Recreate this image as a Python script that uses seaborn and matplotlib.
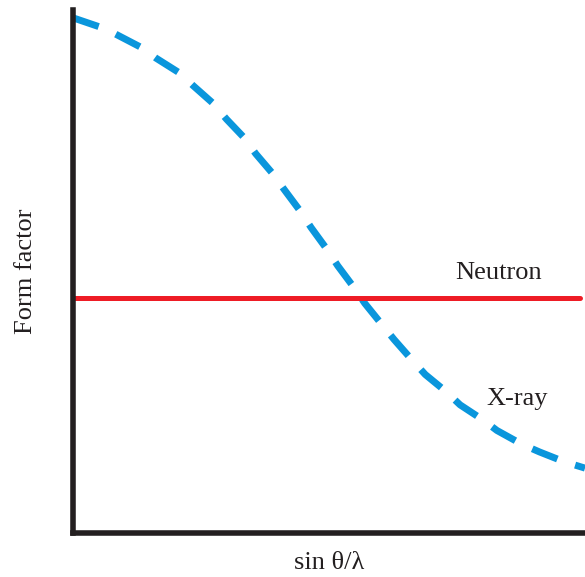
import matplotlib
matplotlib.use("Agg")
import matplotlib.pyplot as plt
import seaborn as sns
import pandas as pd

# Scattering factor vs. sin(theta)/lambda (arbitrary units)
xray_s = [0.0, 0.051, 0.083, 0.134, 0.162, 0.209, 0.235, 0.273, 0.300,
          0.335, 0.357, 0.391, 0.413, 0.445, 0.465, 0.497, 0.517, 0.549,
          0.570, 0.603, 0.627, 0.662, 0.688, 0.729, 0.756, 0.801, 0.828,
          0.876, 0.911, 0.960, 1.0]
xray_f = [0.985, 0.968, 0.954, 0.928, 0.908, 0.879, 0.855, 0.822, 0.791,
          0.755, 0.725, 0.686, 0.656, 0.614, 0.584, 0.541, 0.511, 0.469,
          0.439, 0.399, 0.370, 0.331, 0.303, 0.270, 0.245, 0.216, 0.196,
          0.170, 0.155, 0.136, 0.124]
neutron_s = [0.0, 0.99]
neutron_f = [0.449, 0.449]

sns.set_theme(style="white")
plt.rcParams["font.family"] = ["Liberation Serif", "DejaVu Serif"]

fig = plt.figure(figsize=(5.85, 5.77), dpi=100)
ax = fig.add_axes([0.1248, 0.0763, 0.8752, 0.9064])

xray = pd.DataFrame({"s": xray_s, "f": xray_f})
neutron = pd.DataFrame({"s": neutron_s, "f": neutron_f})

sns.lineplot(data=xray, x="s", y="f", ax=ax, color="#0A96DC", lw=5.0,
             sort=False, clip_on=False)
ax.lines[-1].set_dashes([3.9, 2.7])
ax.lines[-1].set_dash_capstyle("butt")
ax.lines[-1].set_solid_joinstyle("round")
sns.lineplot(data=neutron, x="s", y="f", ax=ax, color="#EE1C25", lw=3.6,
             sort=False)

ax.set_xlim(0, 1)
ax.set_ylim(0, 1)
ax.set_xticks([])
ax.set_yticks([])

for side in ("top", "right"):
    ax.spines[side].set_visible(False)
for side in ("left", "bottom"):
    ax.spines[side].set_color("#231F20")
    ax.spines[side].set_linewidth(4.0)
    ax.spines[side].set_capstyle("projecting")

ax.text(0.832, 0.486, "Neutron", ha="center", va="baseline",
        fontsize=19, color="#231F20")
ax.text(0.868, 0.245, "X-ray", ha="center", va="baseline",
        fontsize=19, color="#231F20")

ax.set_xlabel("sin θ/λ", fontsize=19, color="#231F20", labelpad=14)
ax.set_ylabel("Form factor", fontsize=19, color="#231F20", labelpad=26)

fig.savefig("out.png", dpi=100)
